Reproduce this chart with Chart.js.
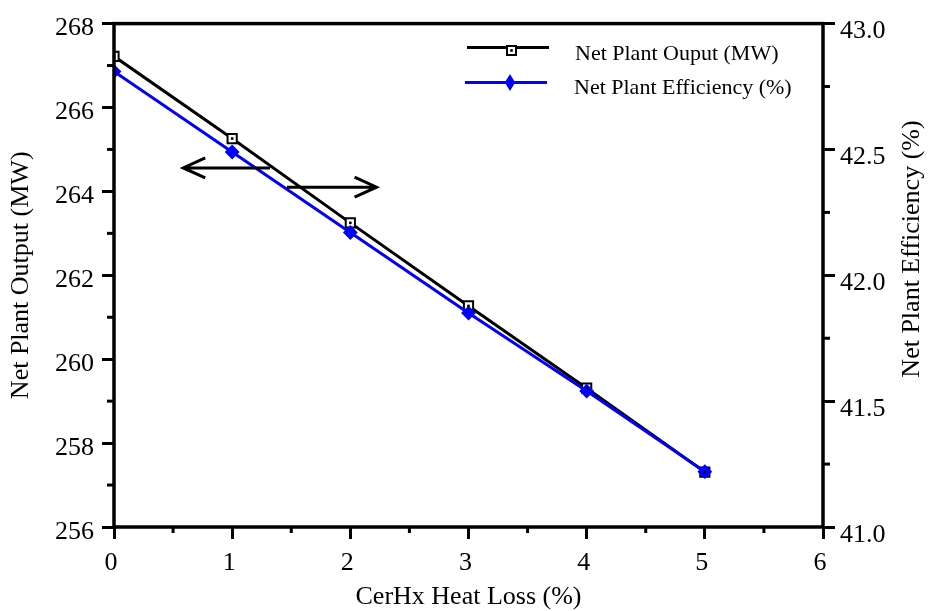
<!DOCTYPE html>
<html>
<head>
<meta charset="utf-8">
<script src="https://cdn.jsdelivr.net/npm/chart.js@4.4.1/dist/chart.umd.min.js"></script>
<style>
  html, body { margin: 0; padding: 0; background: #fff; }
  #wrap { width: 929px; height: 611px; position: relative; }
</style>
</head>
<body>
<div id="wrap"><canvas id="plantChart"></canvas></div>
<script>
// Werte
const heatLoss = [0, 1, 2, 3, 4, 5];
const netOutputMW = [267.22, 265.26, 263.25, 261.27, 259.31, 257.31];
const netEfficiency = [42.81, 42.49, 42.17, 41.85, 41.54, 41.22];

const seriesLabels = ['Net Plant Ouput (MW)', 'Net Plant Efficiency (%)'];
const xTitle = 'CerHx Heat Loss (%)';
const yLeftTitle = 'Net Plant Output (MW)';
const yRightTitle = 'Net Plant Efficiency (%)';

// Pfeile (x-Start, x-Spitze, y auf linker Achse)
const arrowLeft = [1.32, 0.586, 264.56];
const arrowRight = [1.464, 2.222, 264.10];

const FONT = "'Liberation Serif', 'Times New Roman', serif";

function isMajor(v, step) {
    return Math.abs(v / step - Math.round(v / step)) < 1e-6;
}

const framePlugin = {
    id: 'framePlugin',
    afterDatasetsDraw(chart) {
        const ctx = chart.ctx;
        const a = chart.chartArea;
        const sx = chart.scales.x, yl = chart.scales.y, yr = chart.scales.y2;
        ctx.save();
        ctx.strokeStyle = '#000';

        // kleine Zwischenstriche
        ctx.lineWidth = 3;
        sx.ticks.forEach(t => {
            if (!isMajor(t.value, 1)) {
                const px = sx.getPixelForValue(t.value);
                ctx.beginPath(); ctx.moveTo(px, a.bottom); ctx.lineTo(px, a.bottom + 6); ctx.stroke();
            }
        });
        yl.ticks.forEach(t => {
            if (!isMajor(t.value, 2)) {
                const py = yl.getPixelForValue(t.value);
                ctx.beginPath(); ctx.moveTo(a.left, py); ctx.lineTo(a.left - 7, py); ctx.stroke();
            }
        });
        yr.ticks.forEach(t => {
            if (!isMajor(t.value, 0.5)) {
                const py = yr.getPixelForValue(t.value);
                ctx.beginPath(); ctx.moveTo(a.right, py); ctx.lineTo(a.right + 7, py); ctx.stroke();
            }
        });

        // Rahmen
        ctx.lineWidth = 3.5;
        ctx.strokeRect(a.left, a.top, a.right - a.left, a.bottom - a.top);

        // Punkt in den Quadraten
        const meta = chart.getDatasetMeta(0);
        ctx.fillStyle = '#000';
        meta.data.forEach(p => {
            ctx.fillRect(p.x - 1.3, p.y - 1.3, 2.6, 2.6);
        });

        // Pfeile
        function arrow(xs, xe, yv) {
            const x0 = sx.getPixelForValue(xs), x1 = sx.getPixelForValue(xe), y = yl.getPixelForValue(yv);
            const dir = x1 > x0 ? -1 : 1;
            ctx.lineWidth = 3;
            ctx.beginPath();
            ctx.moveTo(x0, y); ctx.lineTo(x1, y);
            ctx.moveTo(x1 + dir * 22, y - 10); ctx.lineTo(x1, y); ctx.lineTo(x1 + dir * 22, y + 10);
            ctx.stroke();
        }
        arrow(arrowLeft[0], arrowLeft[1], arrowLeft[2]);
        arrow(arrowRight[0], arrowRight[1], arrowRight[2]);

        // Legende
        ctx.lineWidth = 3;
        ctx.strokeStyle = '#000';
        ctx.beginPath(); ctx.moveTo(467, 47.5); ctx.lineTo(549, 47.5); ctx.stroke();
        ctx.fillStyle = '#fff';
        ctx.fillRect(507, 46, 9, 9);
        ctx.lineWidth = 2;
        ctx.strokeRect(507, 46, 9, 9);
        ctx.fillStyle = '#000';
        ctx.fillRect(510.2, 49.2, 2.6, 2.6);

        ctx.strokeStyle = '#0000ff';
        ctx.fillStyle = '#0000ff';
        ctx.lineWidth = 3;
        ctx.beginPath(); ctx.moveTo(465, 82.5); ctx.lineTo(547, 82.5); ctx.stroke();
        ctx.lineWidth = 2;
        ctx.beginPath();
        ctx.moveTo(510, 76); ctx.lineTo(514, 82.5); ctx.lineTo(510, 89); ctx.lineTo(506, 82.5); ctx.closePath();
        ctx.fill(); ctx.stroke();

        ctx.fillStyle = '#000';
        ctx.font = '22px ' + FONT;
        ctx.textBaseline = 'middle';
        ctx.textAlign = 'left';
        ctx.fillText(seriesLabels[0], 575, 54);
        ctx.fillText(seriesLabels[1], 574, 88);

        // rechter Achsentitel (von unten nach oben)
        ctx.save();
        ctx.translate(912, 249);
        ctx.rotate(-Math.PI / 2);
        ctx.textAlign = 'center';
        ctx.font = '26px ' + FONT;
        ctx.fillText(yRightTitle, 0, 0);
        ctx.restore();

        ctx.restore();
    }
};

const ctx = document.getElementById('plantChart').getContext('2d');
const chart = new Chart(ctx, {
    type: 'line',
    data: {
        datasets: [{
            label: seriesLabels[0],
            data: heatLoss.map((x, i) => ({ x: x, y: netOutputMW[i] })),
            yAxisID: 'y',
            borderColor: '#000',
            borderWidth: 3,
            pointStyle: 'rect',
            pointRadius: 6.5,
            pointBorderWidth: 2,
            pointBackgroundColor: '#fff',
            pointBorderColor: '#000',
            tension: 0,
            order: 2
        }, {
            label: seriesLabels[1],
            data: heatLoss.map((x, i) => ({ x: x, y: netEfficiency[i] })),
            yAxisID: 'y2',
            borderColor: '#0000ff',
            borderWidth: 3,
            pointStyle: 'rectRot',
            pointRadius: 6,
            pointBorderWidth: 2,
            pointBackgroundColor: '#0000ff',
            pointBorderColor: '#0000ff',
            tension: 0,
            order: 1
        }]
    },
    options: {
        responsive: true,
        maintainAspectRatio: false,
        animation: false,
        layout: { padding: { top: 17, left: 0, right: 0, bottom: 0 } },
        plugins: { legend: { display: false }, tooltip: { enabled: false } },
        scales: {
            x: {
                type: 'linear',
                min: 0, max: 6,
                afterFit: s => { s.height = 84; },
                border: { display: false },
                grid: {
                    drawOnChartArea: false, drawTicks: true, tickLength: 12, tickWidth: 3,
                    tickColor: c => isMajor(c.tick.value, 1) ? '#000' : 'transparent'
                },
                ticks: {
                    stepSize: 0.5, autoSkip: false, maxRotation: 0, padding: 9, labelOffset: -3,
                    color: '#000', font: { family: FONT, size: 26 },
                    callback: v => isMajor(v, 1) ? String(Math.round(v)) : ''
                },
                title: {
                    display: true, text: xTitle, color: '#000',
                    font: { family: FONT, size: 26, lineHeight: 1 }, padding: { top: 0, bottom: 1 }
                }
            },
            y: {
                position: 'left',
                min: 256, max: 268,
                afterFit: s => { s.width = 114; },
                border: { display: false },
                grid: {
                    drawOnChartArea: false, drawTicks: true, tickLength: 12, tickWidth: 3,
                    tickColor: c => isMajor(c.tick.value, 2) ? '#000' : 'transparent'
                },
                ticks: {
                    stepSize: 1, autoSkip: false, padding: 8, labelOffset: 5,
                    color: '#000', font: { family: FONT, size: 26 },
                    callback: v => isMajor(v, 2) ? String(Math.round(v)) : ''
                },
                title: {
                    display: true, text: yLeftTitle, color: '#000',
                    font: { family: FONT, size: 26, lineHeight: 1 }, padding: { top: 8, bottom: 0 }
                }
            },
            y2: {
                position: 'right',
                min: 41, max: 43,
                afterFit: s => { s.width = 106; },
                border: { display: false },
                grid: {
                    drawOnChartArea: false, drawTicks: true, tickLength: 12, tickWidth: 3,
                    tickColor: c => isMajor(c.tick.value, 0.5) ? '#000' : 'transparent'
                },
                ticks: {
                    stepSize: 0.25, autoSkip: false, padding: 5, labelOffset: 8,
                    color: '#000', font: { family: FONT, size: 26 },
                    callback: v => isMajor(v, 0.5) ? v.toFixed(1) : ''
                }
            }
        }
    },
    plugins: [framePlugin]
});
</script>
</body>
</html>
